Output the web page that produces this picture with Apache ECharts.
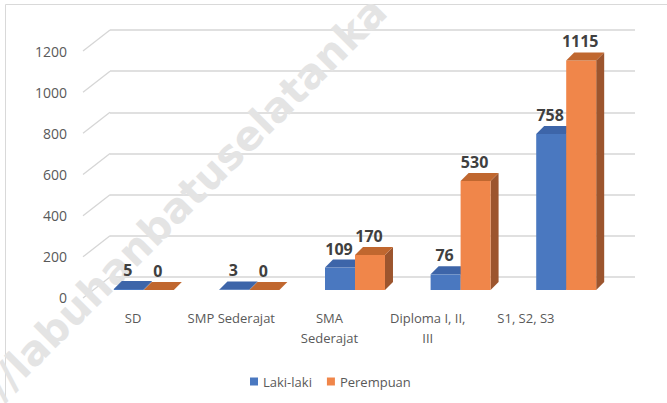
<!DOCTYPE html>
<html>
<head>
<meta charset="utf-8">
<script src="https://cdn.jsdelivr.net/npm/echarts@6/dist/echarts.min.js"></script>
<style>
  html, body { margin: 0; padding: 0; background: #fff; }
  #chart { width: 667px; height: 403px; }
</style>
</head>
<body>
<div id="chart"></div>
<script>
const categories = ['SD', 'SMP Sederajat', 'SMA Sederajat', 'Diploma I, II, III', 'S1, S2, S3'];
const lakiLaki = [5, 3, 109, 76, 758];
const perempuan = [0, 0, 170, 530, 1115];
const yTicks = [0, 200, 400, 600, 800, 1000, 1200];

const FONT = '"Open Sans", sans-serif';
// fake 3D: offsets in px, relative to the plane of the bar front faces
const BACK = [19, -13];
const FRONT = [-8, 8];
const BAR_DEPTH = [8, -8];

const faces = {
  'Laki-laki': { front: '#4A78C0', top: '#3D65A9', side: '#335892' },
  'Perempuan': { front: '#F0864A', top: '#C0672F', side: '#9C552E' },
};

const chart = echarts.init(document.getElementById('chart'), null, { renderer: 'svg' });

// one bar = side face + front face + top face + value label
const barRender = (name, side) => (params, api) => {
  const i = api.value(0);
  const v = api.value(1);
  const c = faces[name];
  const base = api.coord([i, 0]);
  const top = api.coord([i, v]);
  const bw = api.size([1, 0])[0] * 0.284;
  const x0 = side === 0 ? base[0] - bw : base[0];
  const x1 = x0 + bw;
  const [dx, dy] = BAR_DEPTH;
  return {
    type: 'group',
    children: [
      {
        type: 'polygon',
        shape: { points: [[x1, top[1]], [x1 + dx, top[1] + dy], [x1 + dx, base[1] + dy], [x1, base[1]]] },
        style: { fill: c.side },
      },
      {
        type: 'rect',
        shape: { x: x0, y: top[1], width: bw, height: base[1] - top[1] },
        style: { fill: c.front },
      },
      {
        type: 'polygon',
        shape: { points: [[x0, top[1]], [x0 + dx, top[1] + dy], [x1 + dx, top[1] + dy], [x1, top[1]]] },
        style: { fill: c.top },
      },
      {
        type: 'text',
        style: {
          text: String(v), x: (x0 + x1) / 2 - 1, y: top[1] - 19,
          align: 'center', verticalAlign: 'middle',
          font: 'bold 16px ' + FONT, fill: '#404040',
        },
      },
    ],
  };
};

// diagonal gridline on the left side wall
const sideRender = (params, api) => {
  const left = params.coordSys.x;
  const y = api.coord([0, api.value(1)])[1];
  return {
    type: 'line',
    shape: { x1: left + FRONT[0], y1: y + FRONT[1], x2: left + BACK[0], y2: y + BACK[1] },
    style: { stroke: '#d6d6d6', lineWidth: 1.3 },
  };
};

const option = {
  backgroundColor: '#fff',
  graphic: [
    {
      type: 'rect', z: 0, silent: true,
      shape: { x: 5.5, y: 4.5, width: 700, height: 500 },
      style: { fill: 'transparent', stroke: '#d9d9d9', lineWidth: 1 },
    },
    {
      type: 'text', z: 2, silent: true,
      x: 7, y: 406, rotation: Math.PI / 4,
      style: {
        text: '//labuhanbatuselatanka',
        font: 'bold 41px "DejaVu Sans"', fill: '#e4e4e4',
        verticalAlign: 'bottom',
      },
    },
  ],
  legend: {
    data: ['Laki-laki', 'Perempuan'],
    left: 245,
    top: 370,
    icon: 'rect',
    itemWidth: 8,
    itemHeight: 8,
    itemGap: 15,
    textStyle: { color: '#595959', fontSize: 13, fontFamily: FONT },
  },
  grid: [
    { left: 91, right: 48, top: 43, bottom: 113 }, // bars
    { left: 84, right: 92, top: 43, bottom: 103 }, // category labels
    { left: 75, right: 48, top: 51, bottom: 106 }, // value labels (front plane)
    { left: 110, right: 32, top: 30, bottom: 126 }, // back wall
  ],
  xAxis: [
    { gridIndex: 0, type: 'category', data: categories, show: false },
    {
      gridIndex: 1, type: 'category', data: categories,
      axisLine: { show: false }, axisTick: { show: false },
      axisLabel: {
        interval: 0, margin: 8, color: '#595959', fontSize: 13, fontFamily: FONT, lineHeight: 20,
        formatter: (v) => v.replace('SMA ', 'SMA\n').replace('II, III', 'II,\nIII'),
      },
    },
    { gridIndex: 2, type: 'value', show: false },
    { gridIndex: 3, type: 'value', show: false },
  ],
  yAxis: [
    { gridIndex: 0, type: 'value', min: 0, max: 1200, interval: 200, show: false },
    { gridIndex: 1, type: 'value', show: false },
    {
      gridIndex: 2, type: 'value', min: 0, max: 1200, interval: 200,
      axisLine: { show: false }, axisTick: { show: false }, splitLine: { show: false },
      axisLabel: { margin: 8, color: '#595959', fontSize: 14, fontFamily: FONT, formatter: (v) => String(v) },
    },
    {
      gridIndex: 3, type: 'value', min: 0, max: 1200, interval: 200,
      axisLine: { show: false }, axisTick: { show: false }, axisLabel: { show: false },
      splitLine: { show: true, lineStyle: { color: '#d6d6d6', width: 1.5 } },
    },
  ],
  series: [
    {
      type: 'custom', name: 'grid', silent: true, z: 1,
      xAxisIndex: 0, yAxisIndex: 0,
      data: yTicks.map((v) => [0, v]),
      renderItem: sideRender,
    },
    {
      type: 'custom', name: 'Laki-laki', z: 3,
      xAxisIndex: 0, yAxisIndex: 0,
      itemStyle: { color: faces['Laki-laki'].front },
      data: lakiLaki.map((v, i) => [i, v]),
      encode: { x: 0, y: 1 },
      renderItem: barRender('Laki-laki', 0),
    },
    {
      type: 'custom', name: 'Perempuan', z: 4,
      xAxisIndex: 0, yAxisIndex: 0,
      itemStyle: { color: faces['Perempuan'].front },
      data: perempuan.map((v, i) => [i, v]),
      encode: { x: 0, y: 1 },
      renderItem: barRender('Perempuan', 1),
    },
  ],
};

chart.setOption(option);
</script>
</body>
</html>
